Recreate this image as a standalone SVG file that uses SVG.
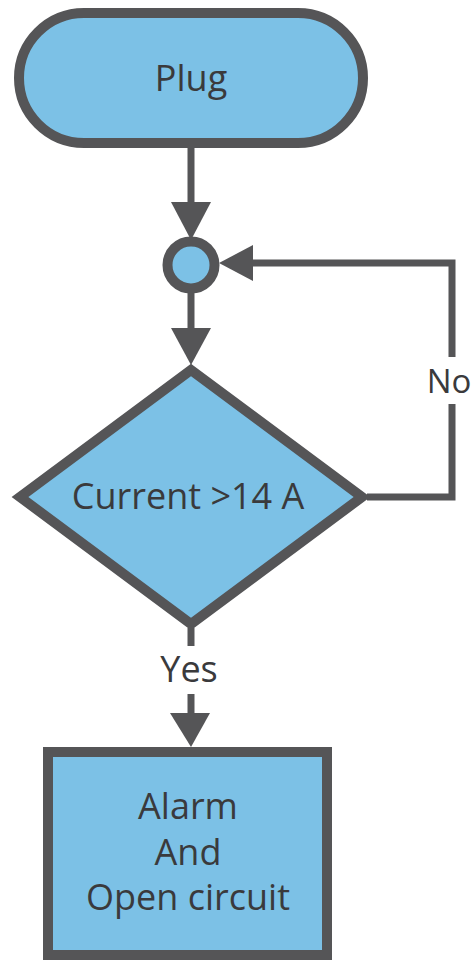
<svg xmlns="http://www.w3.org/2000/svg" width="473" height="960" viewBox="0 0 473 960">
<style>
.node{fill:#7cc1e6;stroke:#555557;stroke-width:10;stroke-linejoin:miter}
.lbl{font-family:"Open Sans","Liberation Sans",sans-serif;font-size:36px;fill:#3a3a3c;text-anchor:middle}
.edge{stroke:#555557;stroke-width:7;fill:none}
.head{fill:#555557}
</style>
<rect width="473" height="960" fill="#ffffff"/>
<g id="connectors">
<line class="edge" x1="191" y1="148" x2="191" y2="205"/>
<polygon class="head" points="171,202 211,202 191,240"/>
<line class="edge" x1="191" y1="292" x2="191" y2="330"/>
<polygon class="head" points="171,328 211,328 191,365"/>
<polyline class="edge" points="367,497 452,497 452,404"/>
<polyline class="edge" points="452,357 452,263 250,263"/>
<polygon class="head" points="253,245 253,281 219,263"/>
<text class="lbl" x="449" y="393" style="font-size:33px">No</text>
<line class="edge" x1="191" y1="628" x2="191" y2="646"/>
<text class="lbl" x="189" y="682">Yes</text>
<line class="edge" x1="191" y1="694" x2="191" y2="716"/>
<polygon class="head" points="170,713 210,713 191,747"/>
</g>
<g id="plug">
<rect class="node" x="19" y="13" width="344" height="130" rx="65" ry="65"/>
<text class="lbl" x="191" y="91">Plug</text>
</g>
<g id="junction">
<circle class="node" cx="191" cy="265" r="23.5"/>
</g>
<g id="decision">
<polygon class="node" points="191,370 362,497 191,624 20,497"/>
<text class="lbl" x="188" y="509">Current &gt;14 A</text>
</g>
<g id="action">
<rect class="node" x="48" y="752" width="279" height="203"/>
<text class="lbl" x="188" y="819">Alarm</text>
<text class="lbl" x="188" y="865">And</text>
<text class="lbl" x="188" y="910">Open circuit</text>
</g>
</svg>
